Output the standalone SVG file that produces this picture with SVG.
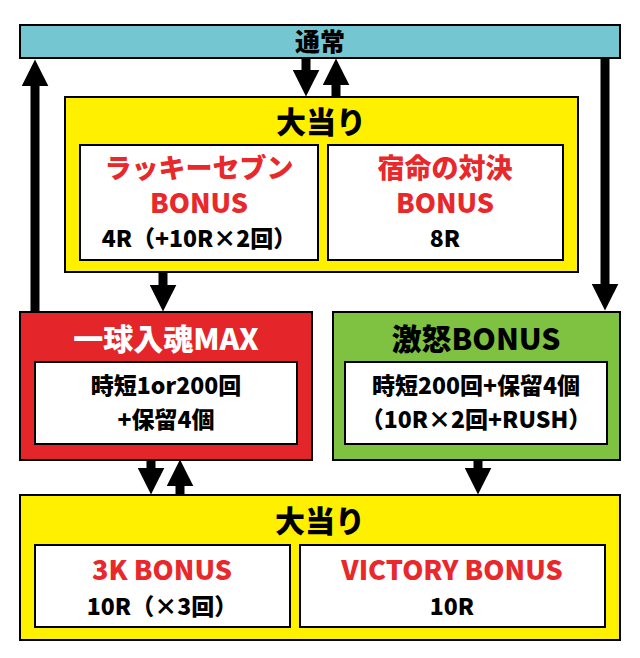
<svg xmlns="http://www.w3.org/2000/svg" width="640" height="658" viewBox="0 0 640 658">
<style>
.b{stroke:#000;stroke-width:2}
.t{font-family:"Noto Sans CJK JP",sans-serif;font-weight:900;text-anchor:middle}
.h{font-size:30px}
.m{font-size:27px}
.s{font-size:23px}
.r{fill:#e8282b}
.k{fill:#000}
.w{fill:#fff}
.ar{stroke:#000;stroke-width:9;fill:none}
</style>
<defs>
<marker id="a" markerWidth="3" markerHeight="3" refX="1.6" refY="1.5" orient="auto" markerUnits="strokeWidth"><path d="M0,0L3,1.5L0,3z" fill="#000"/></marker>
</defs>
<rect width="640" height="658" fill="#fff"/>
<g id="connectors">
<line class="ar" x1="35" y1="312" x2="35" y2="72" marker-end="url(#a)"/>
<line class="ar" x1="605" y1="58" x2="605" y2="298" marker-end="url(#a)"/>
<line class="ar" x1="306" y1="58" x2="306" y2="84" marker-end="url(#a)"/>
<line class="ar" x1="336" y1="97" x2="336" y2="71" marker-end="url(#a)"/>
<line class="ar" x1="163" y1="272" x2="163" y2="299" marker-end="url(#a)"/>
<line class="ar" x1="151" y1="460" x2="151" y2="482" marker-end="url(#a)"/>
<line class="ar" x1="180" y1="495" x2="180" y2="472" marker-end="url(#a)"/>
<line class="ar" x1="478" y1="460" x2="478" y2="482" marker-end="url(#a)"/>
</g>
<g id="tsujo">
<rect class="b" x="20" y="25" width="600" height="33" fill="#74c6d0"/>
<text class="t k" x="320" y="51" font-size="25">通常</text>
</g>
<g id="oatari1">
<rect class="b" x="65" y="97" width="513" height="175" fill="#fff000"/>
<text class="t k h" x="321" y="133">大当り</text>
<rect class="b" x="80" y="145" width="238" height="115" fill="#fff"/>
<text class="t r m" x="199" y="178">ラッキーセブン</text>
<text class="t r m" x="199" y="213">BONUS</text>
<text class="t k s" x="199" y="247">4R（+10R×2回）</text>
<rect class="b" x="328" y="145" width="235" height="115" fill="#fff"/>
<text class="t r m" x="445" y="178">宿命の対決</text>
<text class="t r m" x="445" y="213">BONUS</text>
<text class="t k s" x="445" y="247">8R</text>
</g>
<g id="ikkyu">
<rect class="b" x="20" y="312" width="292" height="148" fill="#e4252a"/>
<text class="t w h" x="166" y="350">一球入魂MAX</text>
<rect class="b" x="35" y="362" width="262" height="82" fill="#fff"/>
<text class="t k s" x="166" y="394">時短1or200回</text>
<text class="t k s" x="166" y="428">+保留4個</text>
</g>
<g id="gekido">
<rect class="b" x="333" y="312" width="287" height="148" fill="#7fc141"/>
<text class="t k h" x="476" y="350">激怒BONUS</text>
<rect class="b" x="345" y="362" width="262" height="82" fill="#fff"/>
<text class="t k s" x="476" y="394">時短200回+保留4個</text>
<text class="t k s" x="476" y="428">（10R×2回+RUSH）</text>
</g>
<g id="oatari2">
<rect class="b" x="20" y="495" width="600" height="145" fill="#fff000"/>
<text class="t k h" x="320" y="532">大当り</text>
<rect class="b" x="35" y="545" width="255" height="82" fill="#fff"/>
<text class="t r m" x="162" y="580">3K BONUS</text>
<text class="t k s" x="162" y="615">10R（×3回）</text>
<rect class="b" x="300" y="545" width="305" height="82" fill="#fff"/>
<text class="t r m" x="452" y="580">VICTORY BONUS</text>
<text class="t k s" x="452" y="615">10R</text>
</g>
</svg>
